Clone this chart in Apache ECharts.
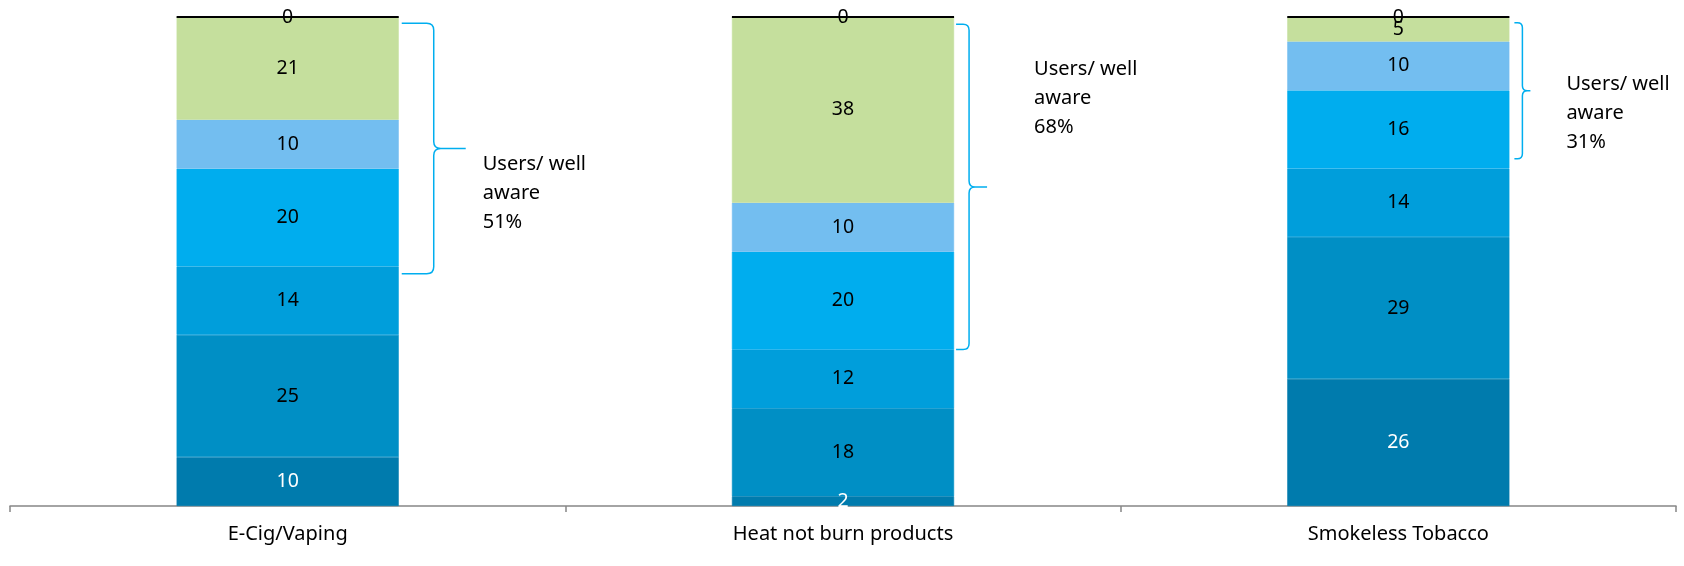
<!DOCTYPE html>
<html>
<head>
<meta charset="utf-8">
<script src="https://cdn.jsdelivr.net/npm/echarts@6/dist/echarts.min.js"></script>
<style>
html,body{margin:0;padding:0;background:#fff;}
#chart{width:1684px;height:566px;}
</style>
</head>
<body>
<div id="chart"></div>
<script>
// ---- data ----
const categories = ['E-Cig/Vaping', 'Heat not burn products', 'Smokeless Tobacco'];
const seg1 = [10, 2, 26];
const seg2 = [25, 18, 29];
const seg3 = [14, 12, 14];
const seg4 = [20, 20, 16];
const seg5 = [10, 10, 10];
const seg6 = [21, 38, 5];
const seg7 = [0, 0, 0];
const braceLow = [47.5, 32, 71];
const braceHigh = [98.7, 98.5, 98.8];
const braceLabels = ['Users/ well\naware\n51%', 'Users/ well\naware\n68%', 'Users/ well\naware\n31%'];

// ---- styling / layout ----
const FONT = '"Noto Sans", sans-serif';
const segColors = ['#007BAD', '#008FC5', '#009EDB', '#00ADEE', '#73BEF0', '#C5DF9D'];
const labelColors = ['#ffffff', '#000000', '#000000', '#000000', '#000000', '#000000'];
const BAR_RATIO = 0.4;
const braceLayout = [
  {gap: 3, arm: 32, tip: 32, r: 7, textDx: 84, textDy: 45},
  {gap: 2, arm: 13, tip: 18, r: 6, textDx: 80, textDy: -89},
  {gap: 5, arm: 8, tip: 8, r: 5, textDx: 57, textDy: 22}
];

const segs = [seg1, seg2, seg3, seg4, seg5, seg6];
const series = segs.map((arr, i) => ({
  type: 'bar',
  stack: 'total',
  barWidth: (BAR_RATIO * 100) + '%',
  data: arr,
  itemStyle: {color: segColors[i], borderColor: segColors[i], borderWidth: 0.6},
  label: {
    show: true, position: 'inside',
    color: labelColors[i], fontFamily: FONT, fontSize: 19.5
  },
  emphasis: {disabled: true}
}));
series.push({
  type: 'bar',
  stack: 'total',
  data: seg7,
  itemStyle: {color: '#000', borderColor: '#000', borderWidth: 2},
  label: {show: true, position: 'inside', color: '#000', fontFamily: FONT, fontSize: 19.5},
  emphasis: {disabled: true},
  z: 3
});

const braceData = categories.map((c, i) => [i, braceLow[i], braceHigh[i]]);
series.push({
  type: 'custom',
  clip: false,
  silent: true,
  z: 5,
  encode: {x: 0, y: [1, 2]},
  data: braceData,
  renderItem: function (params, api) {
    const idx = api.value(0);
    const lay = braceLayout[idx];
    const top = api.coord([idx, api.value(2)]);
    const bot = api.coord([idx, api.value(1)]);
    const band = api.size([1, 0])[0];
    const barRight = top[0] + band * BAR_RATIO / 2;
    const x0 = barRight + lay.gap;
    const x1 = x0 + lay.arm;
    const x2 = x1 + lay.tip;
    const yT = top[1], yB = bot[1], yM = (yT + yB) / 2;
    const r = lay.r;
    const rr = Math.min(r, lay.tip);
    const d =
      'M' + x0 + ' ' + yT +
      ' L' + (x1 - Math.min(r, lay.arm)) + ' ' + yT +
      ' Q' + x1 + ' ' + yT + ' ' + x1 + ' ' + (yT + r) +
      ' L' + x1 + ' ' + (yM - rr) +
      ' Q' + x1 + ' ' + yM + ' ' + (x1 + rr) + ' ' + yM +
      ' L' + x2 + ' ' + yM +
      ' M' + (x1 + rr) + ' ' + yM +
      ' Q' + x1 + ' ' + yM + ' ' + x1 + ' ' + (yM + rr) +
      ' L' + x1 + ' ' + (yB - r) +
      ' Q' + x1 + ' ' + yB + ' ' + (x1 - Math.min(r, lay.arm)) + ' ' + yB +
      ' L' + x0 + ' ' + yB;
    return {
      type: 'group',
      children: [
        {
          type: 'path',
          shape: {pathData: d},
          style: {fill: 'none', stroke: '#00AEEF', lineWidth: 1.5}
        },
        {
          type: 'text',
          style: {
            text: braceLabels[idx],
            x: barRight + lay.textDx,
            y: yM + lay.textDy,
            align: 'left',
            verticalAlign: 'middle',
            fill: '#000',
            fontFamily: FONT,
            fontSize: 20,
            lineHeight: 29
          }
        }
      ]
    };
  }
});

const chart = echarts.init(document.getElementById('chart'), null, {renderer: 'canvas'});
chart.setOption({
  animation: false,
  backgroundColor: '#ffffff',
  grid: {left: 10, right: 8, top: 17, bottom: 60},
  xAxis: {
    type: 'category',
    data: categories,
    axisLine: {show: true, lineStyle: {color: '#868686', width: 1.5}},
    axisTick: {show: true, length: 6, lineStyle: {color: '#868686', width: 1.5}},
    axisLabel: {color: '#000', fontFamily: FONT, fontSize: 20, margin: 18},
    splitLine: {show: false}
  },
  yAxis: {
    type: 'value', min: 0, max: 100, show: false,
    splitLine: {show: false}
  },
  series: series
});
</script>
</body>
</html>
